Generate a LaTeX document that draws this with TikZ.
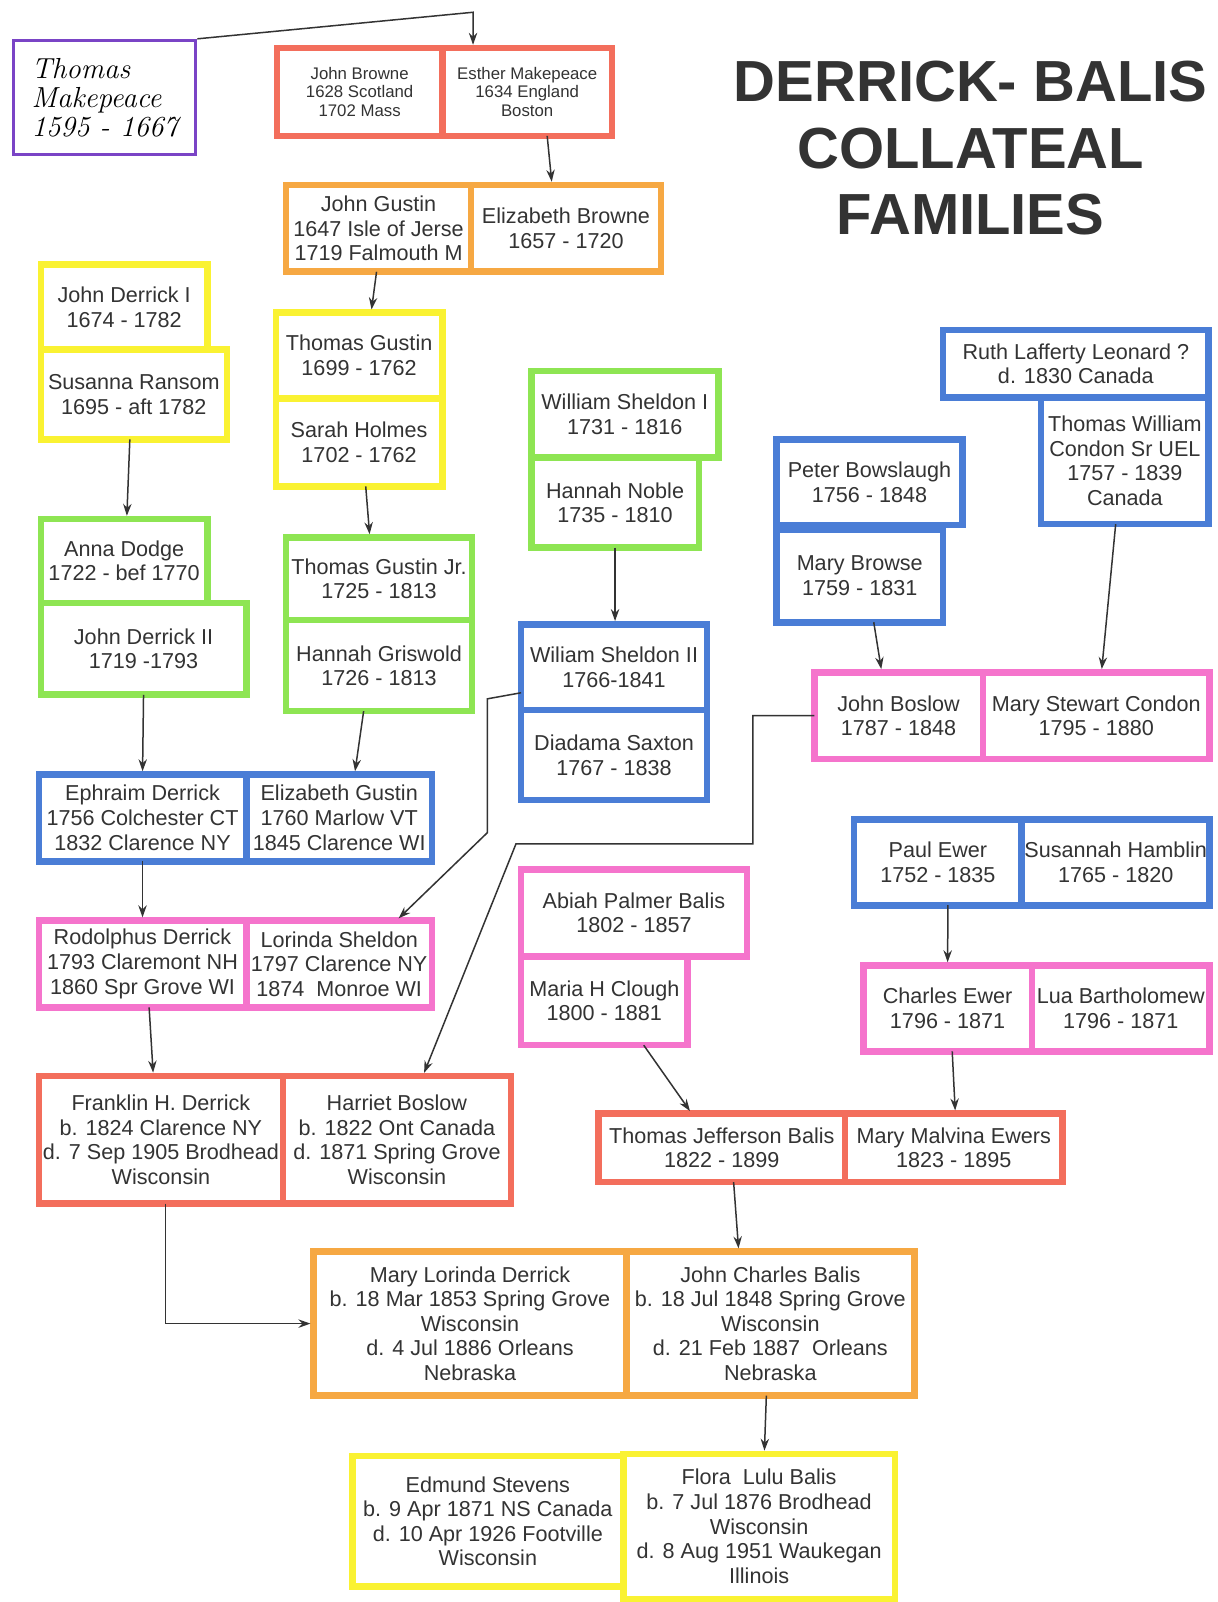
\documentclass[tikz,border=0pt]{standalone}
\usepackage{fontspec}
\newfontfamily\boxfont{Liberation Sans}
\usetikzlibrary{arrows.meta}

\definecolor{famred}{HTML}{F36E5C}
\definecolor{famorange}{HTML}{F6A843}
\definecolor{famyellow}{HTML}{FAF232}
\definecolor{famgreen}{HTML}{8EE553}
\definecolor{famblue}{HTML}{4A7DD6}
\definecolor{fampink}{HTML}{F574CC}
\definecolor{fampurple}{HTML}{7A44C6}
\definecolor{inkgray}{HTML}{333333}

\newcommand{\wide}[1]{\makebox[0pt]{#1}}

\begin{document}
\begin{tikzpicture}[x=0.511pt, y=-0.511pt,
  person/.style={draw=#1, line width=3.3pt, fill=white, inner sep=0pt, outer sep=0pt,
    anchor=north west, align=center, text=inkgray,
    font=\boxfont\fontsize{10.8}{12.3}\selectfont},
  sz/.style 2 args={minimum width=#1*0.511pt, minimum height=#2*0.511pt},
  small/.style={font=\boxfont\fontsize{8.4}{9.4}\selectfont},
  arr/.style={-{Stealth[length=6pt,width=4.2pt]}, draw=inkgray, line width=0.75pt, shorten >=1.6pt}]

 \fill[white] (0,0) rectangle (1192,1568);
 \useasboundingbox (0,0) rectangle (1192,1568);

 % title
 \node (title) at (950,145) [align=center, text=inkgray, font=\boxfont\bfseries\fontsize{29}{33.2}\selectfont]
   {DERRICK- BALIS\\COLLATEAL\\FAMILIES};

 % handwritten note
 \node (tm) at (12,38) [anchor=north west, draw=fampurple, line width=1.6pt, sz={178}{112}, align=left,
   font=\itshape\fontsize{14.5}{14.5}\selectfont, inner sep=0pt] {Thomas\\Makepeace\\1595 - 1667};

 % top rows
 \node (jbr) at (271,47) [person=famred, small, sz={162}{86}] {John Browne\\1628 Scotland\\1702 Mass};
 \node (esm) at (433,47) [person=famred, small, sz={166}{86}] {Esther Makepeace\\1634 England\\Boston};

 \node (jgu) at (280,181) [person=famorange, sz={181}{85}] {John Gustin\\\wide{1647 Isle of Jerse}\\\wide{1719 Falmouth M}};
 \node (ebr) at (461,181) [person=famorange, sz={186}{85}] {Elizabeth Browne\\1657 - 1720};

 \node (jd1) at (40,259) [person=famyellow, sz={163}{83}] {John Derrick I\\1674 - 1782};
 \node (sra) at (40,342) [person=famyellow, sz={182}{88}] {Susanna Ransom\\1695 - aft 1782};

 \node (tgu) at (270,306) [person=famyellow, sz={163}{84}] {Thomas Gustin\\1699 - 1762};
 \node (sho) at (270,390) [person=famyellow, sz={163}{86}] {Sarah Holmes\\1702 - 1762};

 \node (wsh1) at (520,363) [person=famgreen, sz={183}{85}] {William Sheldon I\\1731 - 1816};
 \node (hno) at (520,448) [person=famgreen, sz={164}{88}] {Hannah Noble\\1735 - 1810};

 \node (rll) at (923,323) [person=famblue, sz={260}{66}] {Ruth Lafferty Leonard ?\\d. 1830 Canada};
 \node (twc) at (1019,389) [person=famblue, sz={164}{124}] {Thomas William\\Condon Sr UEL\\1757 - 1839\\Canada};

 \node (pbo) at (760,430) [person=famblue, sz={182}{84}] {Peter Bowslaugh\\1756 - 1848};
 \node (mbr) at (760,518) [person=famblue, sz={163}{91}] {Mary Browse\\1759 - 1831};

 \node (ado) at (40,508) [person=famgreen, sz={163}{82}] {Anna Dodge\\1722 - bef 1770};
 \node (jd2) at (40,590) [person=famgreen, sz={201}{90}] {John Derrick II\\1719 -1793};

 \node (tgj) at (280,526) [person=famgreen, sz={182}{81}] {\wide{Thomas Gustin Jr.}\\1725 - 1813};
 \node (hgr) at (280,607) [person=famgreen, sz={182}{89}] {Hannah Griswold\\1726 - 1813};

 \node (wsh2) at (510,611) [person=famblue, sz={182}{84}] {Wiliam Sheldon II\\1766-1841};
 \node (dsa) at (510,695) [person=famblue, sz={182}{88}] {Diadama Saxton\\1767 - 1838};

 \node (jbo) at (797,658) [person=fampink, sz={165}{85}] {John Boslow\\1787 - 1848};
 \node (msc) at (962,658) [person=fampink, sz={222}{85}] {Mary Stewart Condon\\1795 - 1880};

 % middle rows
 \node (ede) at (38,758) [person=famblue, sz={203}{85}] {Ephraim Derrick\\\wide{1756 Colchester CT}\\1832 Clarence NY};
 \node (egu) at (241,758) [person=famblue, sz={182}{85}] {Elizabeth Gustin\\1760 Marlow VT\\\wide{1845 Clarence WI}};

 \node (pew) at (836,802) [person=famblue, sz={164}{84}] {Paul Ewer\\1752 - 1835};
 \node (sha) at (1000,802) [person=famblue, sz={184}{84}] {\wide{Susannah Hamblin}\\1765 - 1820};

 \node (apb) at (510,851) [person=fampink, sz={221}{85}] {Abiah Palmer Balis\\1802 - 1857};
 \node (mhc) at (510,936) [person=fampink, sz={163}{87}] {Maria H Clough\\1800 - 1881};

 \node (rde) at (38,901) [person=fampink, sz={203}{85}] {Rodolphus Derrick\\\wide{1793 Claremont NH}\\1860 Spr Grove WI};
 \node (lsh) at (241,901) [person=fampink, sz={182}{85}] {Lorinda Sheldon\\\wide{1797 Clarence NY}\\1874\ \ Monroe WI};

 \node (cew) at (845,945) [person=fampink, sz={165}{84}] {Charles Ewer\\1796 - 1871};
 \node (lba) at (1010,945) [person=fampink, sz={174}{84}] {\wide{Lua Bartholomew}\\1796 - 1871};

 \node (fde) at (38,1053) [person=famred, sz={239}{125}] {Franklin H. Derrick\\b. 1824 Clarence NY\\\wide{d. 7 Sep 1905 Brodhead}\\Wisconsin};
 \node (hbo) at (277,1053) [person=famred, sz={223}{125}] {Harriet Boslow\\b. 1822 Ont Canada\\d. 1871 Spring Grove\\Wisconsin};

 \node (tjb) at (586,1090) [person=famred, sz={241}{67}] {Thomas Jefferson Balis\\1822 - 1899};
 \node (mme) at (827,1090) [person=famred, sz={213}{67}] {Mary Malvina Ewers\\1823 - 1895};

 % bottom rows
 \node (mld) at (307,1225) [person=famorange, sz={306}{141}] {Mary Lorinda Derrick\\b. 18 Mar 1853 Spring Grove\\Wisconsin\\d. 4 Jul 1886 Orleans\\Nebraska};
 \node (jcb) at (613,1225) [person=famorange, sz={282}{141}] {John Charles Balis\\b. 18 Jul 1848 Spring Grove\\Wisconsin\\d. 21 Feb 1887\ \ Orleans\\Nebraska};

 \node (est) at (345,1425) [person=famyellow, sz={265}{128}] {Edmund Stevens\\b. 9 Apr 1871 NS Canada\\d. 10 Apr 1926 Footville\\Wisconsin};
 \node (flb) at (610,1423) [person=famyellow, sz={266}{142}] {Flora\ \ Lulu Balis\\b. 7 Jul 1876 Brodhead\\Wisconsin\\d. 8 Aug 1951 Waukegan\\Illinois};

 % bend points
 \coordinate (tmc) at (463,12);
 \coordinate (sb1) at (477,684);
 \coordinate (sb2) at (477,815);
 \coordinate (bb2) at (737,826);
 \coordinate (bb3) at (505,826);

 % descent lines
 \draw[arr] (tm.north east) -- (tmc) -- (tmc |- esm.north);
 \draw[arr] ([xshift=10pt]esm.south) -- ([xshift=-7pt]ebr.north);
 \draw[arr] ([xshift=-1pt]jgu.south) -- ([xshift=6pt]tgu.north);
 \draw[arr] ([xshift=-2pt]sra.south) -- ([xshift=1.3pt]ado.north);
 \draw[arr] ([xshift=3.3pt]sho.south) -- ([xshift=-4.6pt]tgj.north);
 \draw[arr] (hno.south) -- (hno.south |- wsh2.north);
 \draw[arr] ([xshift=7pt]mbr.south) -- ([xshift=-8.4pt]jbo.north);
 \draw[arr] ([xshift=-4.6pt]twc.south) -- ([xshift=2.6pt]msc.north);
 \draw[arr] (jd2.south) -- (ede.north);
 \draw[arr] ([xshift=-7.7pt]hgr.south) -- ([xshift=7.7pt]egu.north);
 \draw[arr] (ede.south) -- (rde.north);
 \draw[arr] ([yshift=-12.8pt]wsh2.west) -- (sb1) -- (sb2) -- ([xshift=28.6pt]lsh.north);
 \draw[arr] ([xshift=3.3pt]rde.south) -- ([xshift=-3.8pt]fde.north);
 \draw[arr] (jbo.west) -| (bb2) -- (bb3) -- ([xshift=13pt]hbo.north);
 \draw[arr] ([xshift=5pt]pew.south) -- (cew.north);
 \draw[arr] ([xshift=2.3pt]cew.south) -- ([xshift=0.8pt]mme.north);
 \draw[arr] ([xshift=19.7pt]mhc.south) -- ([xshift=-15pt]tjb.north);
 \draw[arr] ([xshift=5.9pt]tjb.south) -- ([xshift=-15.8pt]jcb.north);
 \draw[arr] ([xshift=2.3pt]fde.south) |- (mld.west);
 \draw[arr] ([xshift=-2pt]jcb.south) -- ([xshift=2.6pt]flb.north);

\end{tikzpicture}
\end{document}
